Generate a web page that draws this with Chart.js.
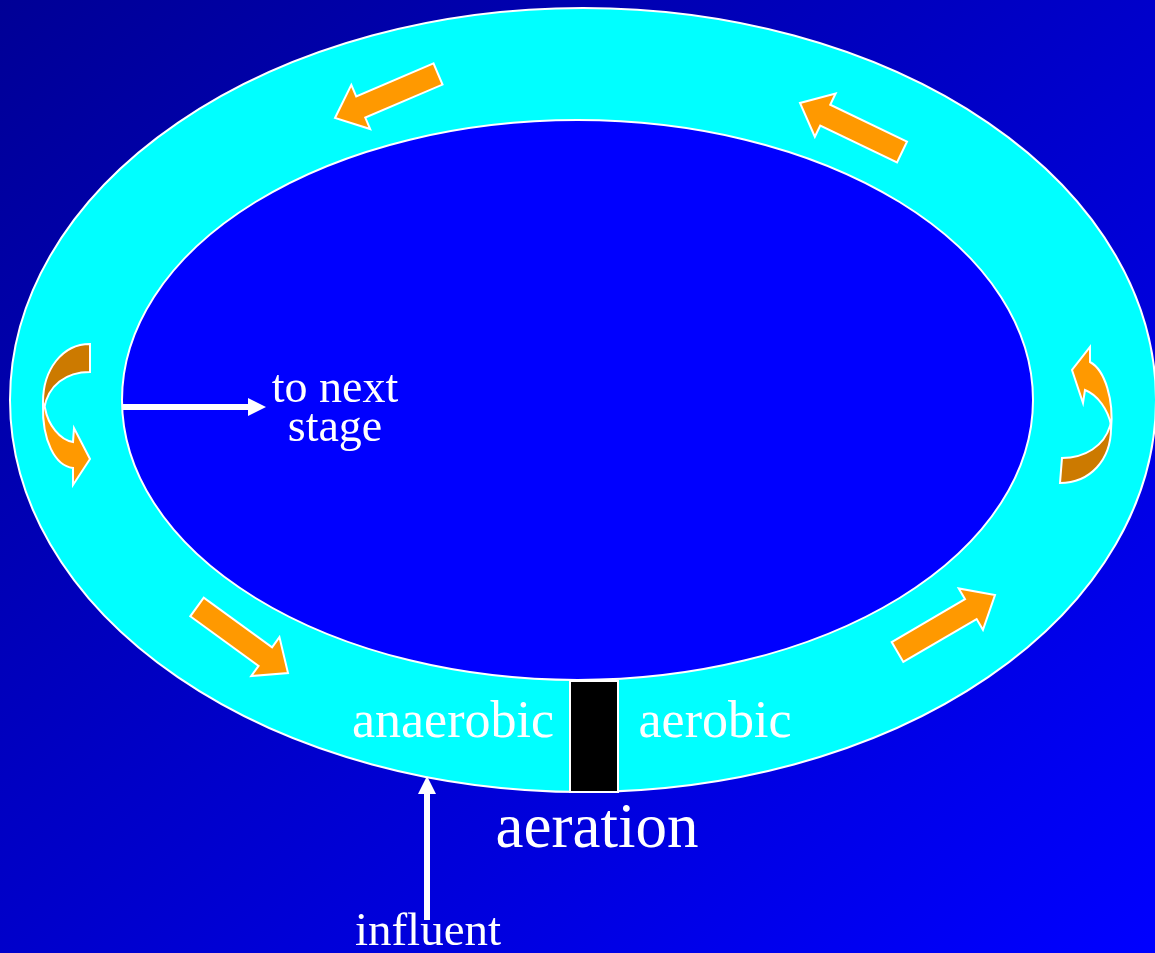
<!DOCTYPE html>
<html><head><meta charset="utf-8">
<script src="https://cdn.jsdelivr.net/npm/chart.js@4.4.1/dist/chart.umd.min.js"></script>
<style>html,body{margin:0;padding:0;background:#0000c0;overflow:hidden}#wrap{width:1155px;height:953px;position:relative}</style>
</head><body><div id="wrap"><canvas id="c" width="1155" height="953"></canvas></div>
<script>
// ---- content ----
const labelTexts = ["to next", "stage", "anaerobic", "aerobic", "aeration", "influent"];
const labelX = [335, 335, 453, 715, 597, 428];
const labelY = [402, 441, 737, 737, 847, 945];
const labelSize = [46, 46, 52, 52, 63, 47];

// ring (outer channel and inner island): cx, cy, rx, ry
const ringOuter = [583, 400, 573, 392];
const ringInner = [577.5, 400, 455.5, 280];
// aerator block: x0, y0, x1, y1
const aerator = [570, 681, 618, 792];

// straight flow arrows: tail x, tail y, tip x, tip y
const flowTailX = [438, 902, 197, 897.5];
const flowTailY = [74, 152, 607, 652];
const flowTipX = [335, 800, 288, 995];
const flowTipY = [118, 103, 673, 595];

// white line arrows: from x,y to x,y
const lineFromX = [122, 427];
const lineFromY = [407, 920];
const lineToX = [266, 427];
const lineToY = [407, 776];

// curved (turning) arrows as path commands
const curvedDark = [
  [["M",90,344],["C",62,344,43,370,43,402],["L",44,409],["C",48,385,66,372,90,372],["Z"]],
  [["M",1060,483],["C",1090,483,1111,460,1111,428],["L",1110,426],["C",1104,446,1085,458,1062,458],["Z"]]
];
const curvedLight = [
  [["M",43,405],["C",42,440,55,466,73,468],["L",73,485],["L",90,459],["L",74,428],["L",73,442],["C",60,440,48,425,45,408],["Z"]],
  [["M",1111,430],["C",1114,400,1105,370,1090,362],["L",1090,347],["L",1072,370],["L",1083,403],["L",1085,390],["C",1098,395,1108,410,1111,425],["Z"]]
];

const diagramPlugin = {
  id: 'diagram',
  beforeDraw(chart) {
    const ctx = chart.ctx, xs = chart.scales.x, ys = chart.scales.y;
    const X = v => xs.getPixelForValue(v), Y = v => ys.getPixelForValue(v);
    const W = chart.width, H = chart.height;
    ctx.save();
    // background gradient
    const g = ctx.createLinearGradient(X(0), Y(0), X(936), Y(1134));
    g.addColorStop(0, '#000096');
    g.addColorStop(1, '#0000ff');
    ctx.fillStyle = g;
    ctx.fillRect(0, 0, W, H);

    function ellipse(e, fill) {
      ctx.beginPath();
      ctx.ellipse(X(e[0]), Y(e[1]), Math.abs(X(e[0] + e[2]) - X(e[0])), Math.abs(Y(e[1] + e[3]) - Y(e[1])), 0, 0, Math.PI * 2);
      ctx.fillStyle = fill; ctx.fill();
      ctx.lineWidth = 2; ctx.strokeStyle = '#ffffff'; ctx.stroke();
    }
    ellipse(ringOuter, '#00ffff');
    ellipse(ringInner, '#0000ff');

    // aerator
    ctx.beginPath();
    ctx.rect(X(aerator[0]), Y(aerator[1]), X(aerator[2]) - X(aerator[0]), Y(aerator[3]) - Y(aerator[1]));
    ctx.fillStyle = '#000000'; ctx.fill();
    ctx.lineWidth = 2; ctx.strokeStyle = '#ffffff'; ctx.stroke();

    function arrowPoly(tx, ty, hx, hy, sw, hw, hl) {
      const x0 = X(tx), y0 = Y(ty), x1 = X(hx), y1 = Y(hy);
      const dx = x1 - x0, dy = y1 - y0, L = Math.hypot(dx, dy);
      const ux = dx / L, uy = dy / L, nx = -uy, ny = ux;
      const bx = x1 - ux * hl, by = y1 - uy * hl;
      ctx.beginPath();
      ctx.moveTo(x0 + nx * sw / 2, y0 + ny * sw / 2);
      ctx.lineTo(bx + nx * sw / 2, by + ny * sw / 2);
      ctx.lineTo(bx + nx * hw / 2, by + ny * hw / 2);
      ctx.lineTo(x1, y1);
      ctx.lineTo(bx - nx * hw / 2, by - ny * hw / 2);
      ctx.lineTo(bx - nx * sw / 2, by - ny * sw / 2);
      ctx.lineTo(x0 - nx * sw / 2, y0 - ny * sw / 2);
      ctx.closePath();
    }
    ctx.lineJoin = 'miter';
    for (let i = 0; i < flowTailX.length; i++) {
      arrowPoly(flowTailX[i], flowTailY[i], flowTipX[i], flowTipY[i], 23, 48, 28);
      ctx.fillStyle = '#ff9900'; ctx.fill();
      ctx.lineWidth = 2; ctx.strokeStyle = '#ffffff'; ctx.stroke();
    }

    function path(cmds) {
      ctx.beginPath();
      for (const c of cmds) {
        if (c[0] === 'M') ctx.moveTo(X(c[1]), Y(c[2]));
        else if (c[0] === 'L') ctx.lineTo(X(c[1]), Y(c[2]));
        else if (c[0] === 'C') ctx.bezierCurveTo(X(c[1]), Y(c[2]), X(c[3]), Y(c[4]), X(c[5]), Y(c[6]));
        else if (c[0] === 'Z') ctx.closePath();
      }
    }
    for (let i = 0; i < curvedDark.length; i++) {
      path(curvedDark[i]);
      ctx.fillStyle = '#cc7a00'; ctx.fill();
      ctx.lineWidth = 2; ctx.strokeStyle = '#ffffff'; ctx.stroke();
      path(curvedLight[i]);
      ctx.fillStyle = '#ff9900'; ctx.fill();
      ctx.lineWidth = 2; ctx.strokeStyle = '#ffffff'; ctx.stroke();
    }

    // white line arrows
    for (let i = 0; i < lineFromX.length; i++) {
      arrowPoly(lineFromX[i], lineFromY[i], lineToX[i], lineToY[i], 6, 18, 18);
      ctx.fillStyle = '#ffffff'; ctx.fill();
    }

    // labels
    ctx.fillStyle = '#ffffff';
    ctx.textAlign = 'center';
    ctx.textBaseline = 'alphabetic';
    for (let i = 0; i < labelTexts.length; i++) {
      ctx.font = labelSize[i] + 'px "Liberation Serif", "Times New Roman", serif';
      ctx.fillText(labelTexts[i], X(labelX[i]), Y(labelY[i]));
    }
    ctx.restore();
  }
};

new Chart(document.getElementById('c'), {
  type: 'scatter',
  data: { datasets: [{ data: [], pointRadius: 0 }] },
  options: {
    responsive: false,
    animation: false,
    events: [],
    layout: { padding: 0 },
    plugins: { legend: { display: false }, tooltip: { enabled: false }, title: { display: false } },
    scales: {
      x: { type: 'linear', min: 0, max: 1155, display: false },
      y: { type: 'linear', min: 0, max: 953, reverse: true, display: false }
    }
  },
  plugins: [diagramPlugin]
});
</script>
</body></html>
